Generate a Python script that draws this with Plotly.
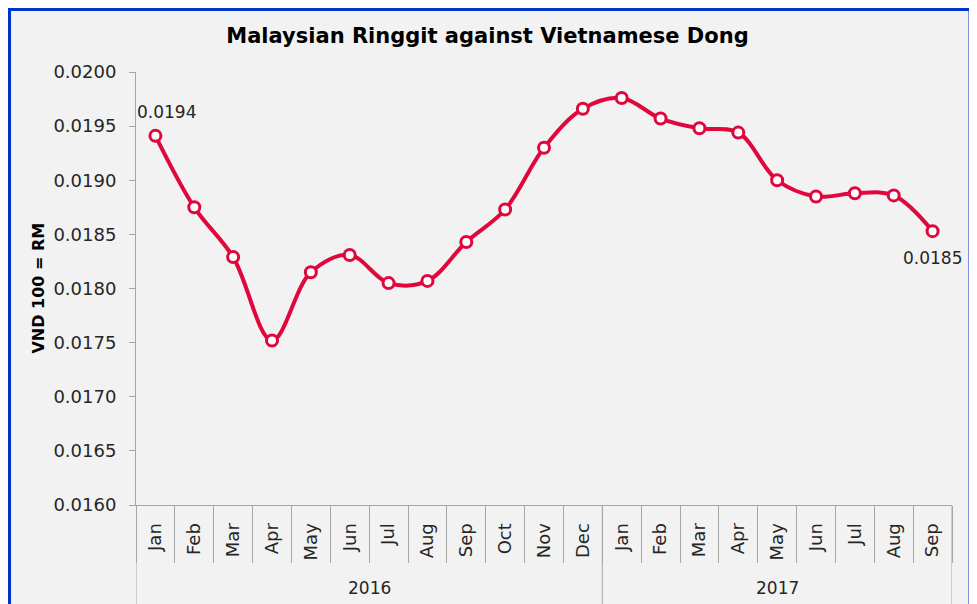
import plotly.graph_objects as go

# data
years = ["2016", "2017"]
months = ["Jan", "Feb", "Mar", "Apr", "May", "Jun", "Jul", "Aug", "Sep", "Oct", "Nov", "Dec",
          "Jan", "Feb", "Mar", "Apr", "May", "Jun", "Jul", "Aug", "Sep"]
months_per_year = [12, 9]
rates = [0.01941, 0.01875, 0.01829, 0.01752, 0.01815, 0.01831, 0.01805, 0.01807, 0.01843,
         0.01873, 0.01930, 0.01966, 0.01976, 0.01957, 0.01948, 0.01944, 0.01900, 0.01885,
         0.01888, 0.01886, 0.01853]

FONT = "DejaVu Sans"
RED = "#E0073D"
GREY = "#A6A6A6"
TXT = "#262626"

pos = list(range(len(months)))

fig = go.Figure()

fig.add_trace(
    go.Scatter(
        x=pos,
        y=rates,
        mode="lines+markers",
        line=dict(color=RED, width=4, shape="spline", smoothing=1),
        marker=dict(size=11, color="white", line=dict(color=RED, width=3)),
        showlegend=False,
        hoverinfo="y",
    )
)

# data labels on first and last points
fig.add_annotation(x=pos[0], y=rates[0], text=f"{rates[0]:.4f}", showarrow=False,
                   xshift=11, yshift=24, font=dict(size=17, color=TXT, family=FONT))
fig.add_annotation(x=pos[-1], y=rates[-1], text=f"{rates[-1]:.4f}", showarrow=False,
                   xshift=0, yshift=-27, font=dict(size=17, color=TXT, family=FONT))

# year labels and long dividers under the month labels
start = -0.5
fig.add_shape(type="line", xref="x", yref="paper", x0=start, x1=start, y0=0, y1=-0.3,
              line=dict(color=GREY, width=1))
for yr, n in zip(years, months_per_year):
    end = start + n
    fig.add_shape(type="line", xref="x", yref="paper", x0=end, x1=end, y0=0, y1=-0.3,
                  line=dict(color=GREY, width=1))
    fig.add_annotation(x=(start + end) / 2, y=-0.192, xref="x", yref="paper", text=yr,
                       showarrow=False, yanchor="middle", font=dict(size=17, color=TXT, family=FONT))
    start = end

# y axis title
fig.add_annotation(x=-0.12, y=0.5, xref="paper", yref="paper", text="<b>VND 100 = RM</b>",
                   textangle=-90, showarrow=False, xanchor="center", yanchor="middle",
                   font=dict(size=16, color="black", family=FONT))

# blue frame round the whole chart
fig.add_shape(type="rect", xref="paper", yref="paper",
              x0=-0.1556, x1=1.0227, y0=-0.3, y1=1.1455,
              line=dict(color="#0033CC", width=4), layer="above")

fig.update_layout(
    width=977,
    height=604,
    margin=dict(l=128, r=33, t=64, b=107),
    paper_bgcolor="#F2F2F2",
    plot_bgcolor="#F2F2F2",
    title=dict(text="<b>Malaysian Ringgit against Vietnamese Dong</b>", x=0.4908, xanchor="center",
               y=0.9536, yanchor="middle", font=dict(size=21, color="black", family=FONT)),
    xaxis=dict(
        automargin=False,
        range=[-0.5, len(months) - 0.5],
        tickmode="array",
        tickvals=pos,
        ticktext=months,
        tickangle=-90,
        ticks="",
        ticklabelstandoff=10,
        showgrid=False,
        zeroline=False,
        showline=True,
        linecolor=GREY,
        tickfont=dict(size=18, color=TXT, family=FONT),
        minor=dict(ticks="outside", tick0=-0.5, dtick=1, ticklen=57, tickcolor=GREY, showgrid=False),
    ),
    yaxis=dict(
        automargin=False,
        range=[0.0160, 0.0200],
        dtick=0.0005,
        tickformat=".4f",
        showgrid=False,
        zeroline=False,
        showline=True,
        linecolor=GREY,
        ticks="outside",
        ticklen=6,
        tickcolor=GREY,
        ticklabelstandoff=9,
        tickfont=dict(size=18, color=TXT, family=FONT),
    ),
)

fig.write_html("out.html")
